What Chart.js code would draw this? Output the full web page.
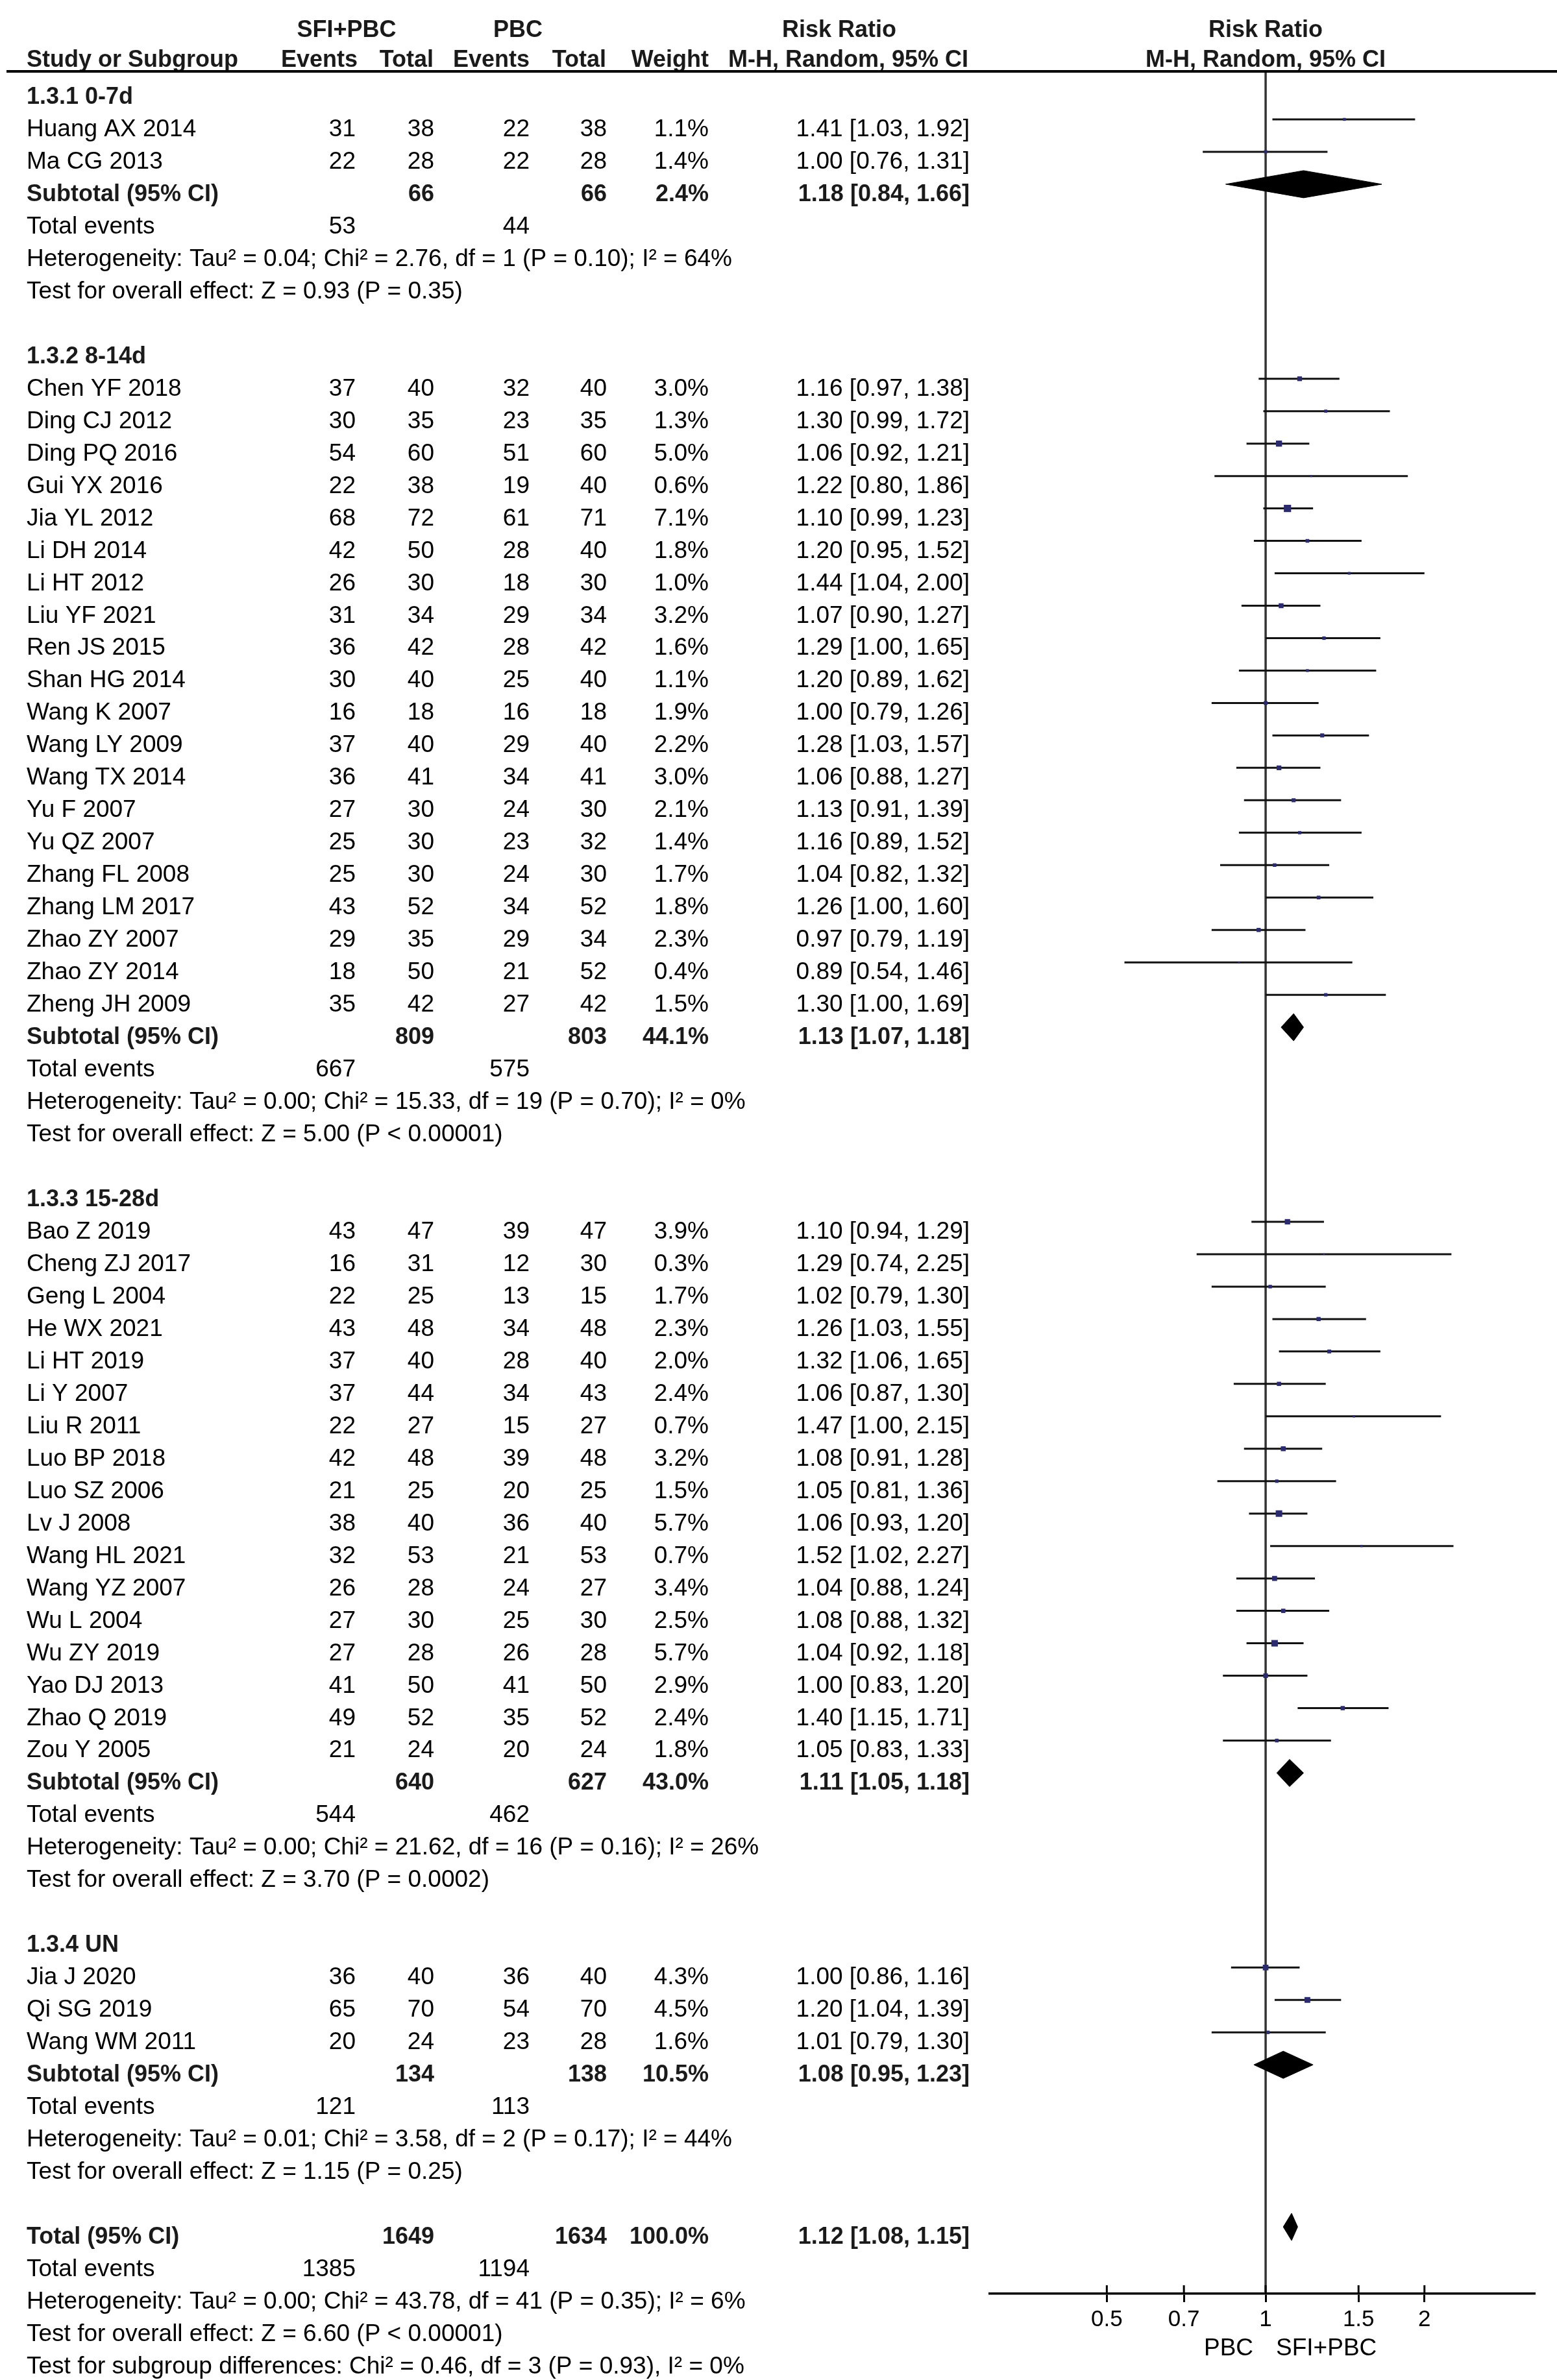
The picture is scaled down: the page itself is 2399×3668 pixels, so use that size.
<!DOCTYPE html>
<html>
<head>
<meta charset="utf-8">
<script src="https://cdn.jsdelivr.net/npm/chart.js@4"></script>
<style>
html,body{margin:0;padding:0;background:#fff;}
#wrap{width:2399px;height:3668px;position:relative;}
</style>
</head>
<body>
<div id="wrap"><canvas id="c"></canvas></div>
<script>
// ---------------- DATA ----------------
const groupLabels = ['1.3.1 0-7d', '1.3.2 8-14d', '1.3.3 15-28d', '1.3.4 UN'];
const groupSizes = [2, 20, 17, 3];

const studyNames = [
  'Huang AX 2014', 'Ma CG 2013',
  'Chen YF 2018', 'Ding CJ 2012', 'Ding PQ 2016', 'Gui YX 2016', 'Jia YL 2012', 'Li DH 2014', 'Li HT 2012',
  'Liu YF 2021', 'Ren JS 2015', 'Shan HG 2014', 'Wang K 2007', 'Wang LY 2009', 'Wang TX 2014', 'Yu F 2007',
  'Yu QZ 2007', 'Zhang FL 2008', 'Zhang LM 2017', 'Zhao ZY 2007', 'Zhao ZY 2014', 'Zheng JH 2009',
  'Bao Z 2019', 'Cheng ZJ 2017', 'Geng L 2004', 'He WX 2021', 'Li HT 2019', 'Li Y 2007', 'Liu R 2011',
  'Luo BP 2018', 'Luo SZ 2006', 'Lv J 2008', 'Wang HL 2021', 'Wang YZ 2007', 'Wu L 2004', 'Wu ZY 2019',
  'Yao DJ 2013', 'Zhao Q 2019', 'Zou Y 2005',
  'Jia J 2020', 'Qi SG 2019', 'Wang WM 2011'
];
const expEvents = [31, 22,
  37, 30, 54, 22, 68, 42, 26, 31, 36, 30, 16, 37, 36, 27, 25, 25, 43, 29, 18, 35,
  43, 16, 22, 43, 37, 37, 22, 42, 21, 38, 32, 26, 27, 27, 41, 49, 21,
  36, 65, 20];
const expTotal = [38, 28,
  40, 35, 60, 38, 72, 50, 30, 34, 42, 40, 18, 40, 41, 30, 30, 30, 52, 35, 50, 42,
  47, 31, 25, 48, 40, 44, 27, 48, 25, 40, 53, 28, 30, 28, 50, 52, 24,
  40, 70, 24];
const ctlEvents = [22, 22,
  32, 23, 51, 19, 61, 28, 18, 29, 28, 25, 16, 29, 34, 24, 23, 24, 34, 29, 21, 27,
  39, 12, 13, 34, 28, 34, 15, 39, 20, 36, 21, 24, 25, 26, 41, 35, 20,
  36, 54, 23];
const ctlTotal = [38, 28,
  40, 35, 60, 40, 71, 40, 30, 34, 42, 40, 18, 40, 41, 30, 32, 30, 52, 34, 52, 42,
  47, 30, 15, 48, 40, 43, 27, 48, 25, 40, 53, 27, 30, 28, 50, 52, 24,
  40, 70, 28];
const weights = [1.1, 1.4,
  3.0, 1.3, 5.0, 0.6, 7.1, 1.8, 1.0, 3.2, 1.6, 1.1, 1.9, 2.2, 3.0, 2.1, 1.4, 1.7, 1.8, 2.3, 0.4, 1.5,
  3.9, 0.3, 1.7, 2.3, 2.0, 2.4, 0.7, 3.2, 1.5, 5.7, 0.7, 3.4, 2.5, 5.7, 2.9, 2.4, 1.8,
  4.3, 4.5, 1.6];
const riskRatio = [1.41, 1.00,
  1.16, 1.30, 1.06, 1.22, 1.10, 1.20, 1.44, 1.07, 1.29, 1.20, 1.00, 1.28, 1.06, 1.13, 1.16, 1.04, 1.26, 0.97, 0.89, 1.30,
  1.10, 1.29, 1.02, 1.26, 1.32, 1.06, 1.47, 1.08, 1.05, 1.06, 1.52, 1.04, 1.08, 1.04, 1.00, 1.40, 1.05,
  1.00, 1.20, 1.01];
const ciLow = [1.03, 0.76,
  0.97, 0.99, 0.92, 0.80, 0.99, 0.95, 1.04, 0.90, 1.00, 0.89, 0.79, 1.03, 0.88, 0.91, 0.89, 0.82, 1.00, 0.79, 0.54, 1.00,
  0.94, 0.74, 0.79, 1.03, 1.06, 0.87, 1.00, 0.91, 0.81, 0.93, 1.02, 0.88, 0.88, 0.92, 0.83, 1.15, 0.83,
  0.86, 1.04, 0.79];
const ciHigh = [1.92, 1.31,
  1.38, 1.72, 1.21, 1.86, 1.23, 1.52, 2.00, 1.27, 1.65, 1.62, 1.26, 1.57, 1.27, 1.39, 1.52, 1.32, 1.60, 1.19, 1.46, 1.69,
  1.29, 2.25, 1.30, 1.55, 1.65, 1.30, 2.15, 1.28, 1.36, 1.20, 2.27, 1.24, 1.32, 1.18, 1.20, 1.71, 1.33,
  1.16, 1.39, 1.30];

const subExpTotal = [66, 809, 640, 134];
const subCtlTotal = [66, 803, 627, 138];
const subWeight = [2.4, 44.1, 43.0, 10.5];
const subRR = [1.18, 1.13, 1.11, 1.08];
const subLow = [0.84, 1.07, 1.05, 0.95];
const subHigh = [1.66, 1.18, 1.18, 1.23];
const subExpEvents = [53, 667, 544, 121];
const subCtlEvents = [44, 575, 462, 113];
const hetTexts = [
  'Heterogeneity: Tau² = 0.04; Chi² = 2.76, df = 1 (P = 0.10); I² = 64%',
  'Heterogeneity: Tau² = 0.00; Chi² = 15.33, df = 19 (P = 0.70); I² = 0%',
  'Heterogeneity: Tau² = 0.00; Chi² = 21.62, df = 16 (P = 0.16); I² = 26%',
  'Heterogeneity: Tau² = 0.01; Chi² = 3.58, df = 2 (P = 0.17); I² = 44%'
];
const effectTexts = [
  'Test for overall effect: Z = 0.93 (P = 0.35)',
  'Test for overall effect: Z = 5.00 (P < 0.00001)',
  'Test for overall effect: Z = 3.70 (P = 0.0002)',
  'Test for overall effect: Z = 1.15 (P = 0.25)'
];

const totalCounts = [1649, 1634];
const totalEventCounts = [1385, 1194];
const totalWeight = 100.0;
const totalEstimate = [1.12, 1.08, 1.15];
const totalTexts = [
  'Heterogeneity: Tau² = 0.00; Chi² = 43.78, df = 41 (P = 0.35); I² = 6%',
  'Test for overall effect: Z = 6.60 (P < 0.00001)',
  'Test for subgroup differences: Chi² = 0.46, df = 3 (P = 0.93), I² = 0%'
];

const tickValues = [0.5, 0.7, 1, 1.5, 2];
const tickLabels = ['0.5', '0.7', '1', '1.5', '2'];
const favoursLeft = 'PBC';
const favoursRight = 'SFI+PBC';

// ---------------- LAYOUT (row indices) ----------------
const rows = [];
const studyRow = [];
const subRow = [];
let r = 0, si = 0;
groupLabels.forEach((g, gi) => {
  rows.push({ t: 'group', gi, r: r++ });
  for (let k = 0; k < groupSizes[gi]; k++) { studyRow[si] = r; rows.push({ t: 'study', si, r: r++ }); si++; }
  subRow[gi] = r; rows.push({ t: 'sub', gi, r: r++ });
  rows.push({ t: 'events', gi, r: r++ });
  rows.push({ t: 'het', gi, r: r++ });
  rows.push({ t: 'eff', gi, r: r++ });
  r++;
});
const totalRow = r;
rows.push({ t: 'total', r: r++ });
rows.push({ t: 'tevents', r: r++ });
rows.push({ t: 'ttext', k: 0, r: r++ });
rows.push({ t: 'ttext', k: 1, r: r++ });
rows.push({ t: 'ttext', k: 2, r: r++ });

const yMin = -0.48, yMax = 68.06;
const DIA_H = 0.42;

const FONT = '"Liberation Sans", Arial, sans-serif';
const FS = 37, FSB = 36;
const COL = { name: 41, ee: 548, et: 669, ce: 816, ct: 935, w: 1092, rr: 1494 };

const f2 = v => v.toFixed(2);
const rrStr = (e, l, h) => f2(e) + ' [' + f2(l) + ', ' + f2(h) + ']';
const wStr = w => w.toFixed(1) + '%';

// ---------------- DATASETS ----------------
const datasets = [];
datasets.push({
  type: 'scatter', order: 0,
  data: riskRatio.map((v, i) => ({ x: v, y: studyRow[i] })),
  pointStyle: 'rect',
  pointRadius: weights.map(w => (4.2 * Math.sqrt(w)) / 1.414),
  backgroundColor: '#2b2b6e', borderWidth: 0, pointHoverRadius: 0
});
const diaE = subRR.concat([totalEstimate[0]]);
const diaL = subLow.concat([totalEstimate[1]]);
const diaH = subHigh.concat([totalEstimate[2]]);
const diaRow = subRow.concat([totalRow]);
diaE.forEach((e, i) => {
  const y = diaRow[i];
  datasets.push({
    type: 'line', order: 1,
    data: [{ x: diaL[i], y }, { x: e, y: y - DIA_H }, { x: diaH[i], y }, { x: e, y: y + DIA_H }, { x: diaL[i], y }],
    borderColor: '#000', backgroundColor: '#000', borderWidth: 1, fill: 'shape', pointRadius: 0, tension: 0
  });
});
riskRatio.forEach((v, i) => {
  datasets.push({
    type: 'line', order: 2,
    data: [{ x: ciLow[i], y: studyRow[i] }, { x: ciHigh[i], y: studyRow[i] }],
    borderColor: '#111', borderWidth: 3, pointRadius: 0, fill: false
  });
});
datasets.push({
  type: 'line', order: 3,
  data: [{ x: 1, y: yMin }, { x: 1, y: yMax }],
  borderColor: '#333', borderWidth: 3.5, pointRadius: 0, fill: false
});

// ---------------- TEXT PLUGIN ----------------
function txt(ctx, s, x, y, align, bold) {
  ctx.font = (bold ? 'bold ' + FSB : FS) + 'px ' + FONT;
  ctx.textAlign = align;
  ctx.textBaseline = 'alphabetic';
  ctx.fillStyle = bold ? '#1a1a1a' : '#000';
  ctx.fillText(s, x, y);
}

const tablePlugin = {
  id: 'table',
  afterDraw(chart) {
    const ctx = chart.ctx;
    const ys = chart.scales.y, xs = chart.scales.x;
    const x1 = xs.getPixelForValue(1);
    ctx.save();
    // header
    txt(ctx, 'SFI+PBC', 534, 57, 'center', true);
    txt(ctx, 'PBC', 798, 57, 'center', true);
    txt(ctx, 'Risk Ratio', 1293, 57, 'center', true);
    txt(ctx, 'Risk Ratio', x1, 57, 'center', true);
    txt(ctx, 'Study or Subgroup', COL.name, 103, 'left', true);
    txt(ctx, 'Events', 551, 103, 'right', true);
    txt(ctx, 'Total', 668, 103, 'right', true);
    txt(ctx, 'Events', 816, 103, 'right', true);
    txt(ctx, 'Total', 934, 103, 'right', true);
    txt(ctx, 'Weight', 1092, 103, 'right', true);
    txt(ctx, 'M-H, Random, 95% CI', 1307, 103, 'center', true);
    txt(ctx, 'M-H, Random, 95% CI', x1, 103, 'center', true);
    ctx.strokeStyle = '#000'; ctx.lineWidth = 4;
    ctx.beginPath(); ctx.moveTo(10, 110); ctx.lineTo(2399, 110); ctx.stroke();

    rows.forEach(row => {
      const by = ys.getPixelForValue(row.r) + 26;
      if (row.t === 'group') {
        txt(ctx, groupLabels[row.gi], COL.name, by, 'left', true);
      } else if (row.t === 'study') {
        const i = row.si;
        txt(ctx, studyNames[i], COL.name, by, 'left', false);
        txt(ctx, String(expEvents[i]), COL.ee, by, 'right', false);
        txt(ctx, String(expTotal[i]), COL.et, by, 'right', false);
        txt(ctx, String(ctlEvents[i]), COL.ce, by, 'right', false);
        txt(ctx, String(ctlTotal[i]), COL.ct, by, 'right', false);
        txt(ctx, wStr(weights[i]), COL.w, by, 'right', false);
        txt(ctx, rrStr(riskRatio[i], ciLow[i], ciHigh[i]), COL.rr, by, 'right', false);
      } else if (row.t === 'sub') {
        const g = row.gi;
        txt(ctx, 'Subtotal (95% CI)', COL.name, by, 'left', true);
        txt(ctx, String(subExpTotal[g]), COL.et, by, 'right', true);
        txt(ctx, String(subCtlTotal[g]), COL.ct, by, 'right', true);
        txt(ctx, wStr(subWeight[g]), COL.w, by, 'right', true);
        txt(ctx, rrStr(subRR[g], subLow[g], subHigh[g]), COL.rr, by, 'right', true);
      } else if (row.t === 'events') {
        txt(ctx, 'Total events', COL.name, by, 'left', false);
        txt(ctx, String(subExpEvents[row.gi]), COL.ee, by, 'right', false);
        txt(ctx, String(subCtlEvents[row.gi]), COL.ce, by, 'right', false);
      } else if (row.t === 'het') {
        txt(ctx, hetTexts[row.gi], COL.name, by, 'left', false);
      } else if (row.t === 'eff') {
        txt(ctx, effectTexts[row.gi], COL.name, by, 'left', false);
      } else if (row.t === 'total') {
        txt(ctx, 'Total (95% CI)', COL.name, by, 'left', true);
        txt(ctx, String(totalCounts[0]), COL.et, by, 'right', true);
        txt(ctx, String(totalCounts[1]), COL.ct, by, 'right', true);
        txt(ctx, wStr(totalWeight), COL.w, by, 'right', true);
        txt(ctx, rrStr(totalEstimate[0], totalEstimate[1], totalEstimate[2]), COL.rr, by, 'right', true);
      } else if (row.t === 'tevents') {
        txt(ctx, 'Total events', COL.name, by, 'left', false);
        txt(ctx, String(totalEventCounts[0]), COL.ee, by, 'right', false);
        txt(ctx, String(totalEventCounts[1]), COL.ce, by, 'right', false);
      } else if (row.t === 'ttext') {
        txt(ctx, totalTexts[row.k], COL.name, by, 'left', false);
      }
    });

    // upper half of the axis ticks
    const bottom = chart.chartArea.bottom;
    ctx.strokeStyle = '#000'; ctx.lineWidth = 3;
    tickValues.forEach(v => {
      const px = xs.getPixelForValue(v);
      ctx.beginPath(); ctx.moveTo(px, bottom - 13); ctx.lineTo(px, bottom); ctx.stroke();
    });
    // favours labels
    ctx.font = FS + 'px ' + FONT;
    ctx.fillStyle = '#000';
    ctx.textAlign = 'right';
    ctx.fillText(favoursLeft, x1 - 19, bottom + 95);
    ctx.textAlign = 'left';
    ctx.fillText(favoursRight, x1 + 16, bottom + 95);
    ctx.restore();
  }
};

// ---------------- CHART ----------------
new Chart(document.getElementById('c'), {
  type: 'scatter',
  data: { datasets },
  options: {
    responsive: true,
    maintainAspectRatio: false,
    devicePixelRatio: 1,
    animation: false,
    events: [],
    layout: { padding: { left: 1525, right: 35, top: 110, bottom: 33 } },
    plugins: { legend: { display: false }, tooltip: { enabled: false } },
    scales: {
      x: {
        type: 'logarithmic', min: 0.31, max: 3.23, position: 'bottom',
        afterBuildTicks: s => { s.ticks = tickValues.map(v => ({ value: v })); },
        afterFit: s => { s.height = 100; },
        border: { display: true, color: '#000', width: 3.5 },
        grid: { display: true, drawOnChartArea: false, drawTicks: true, tickLength: 13, color: '#000', lineWidth: 3 },
        ticks: {
          autoSkip: false, maxRotation: 0, minRotation: 0, padding: 6,
          font: { family: FONT, size: 35 }, color: '#000',
          callback: (v) => { const i = tickValues.indexOf(v); return i >= 0 ? tickLabels[i] : ''; }
        }
      },
      y: { type: 'linear', min: yMin, max: yMax, reverse: true, display: false }
    }
  },
  plugins: [tablePlugin]
});
</script>
</body>
</html>
